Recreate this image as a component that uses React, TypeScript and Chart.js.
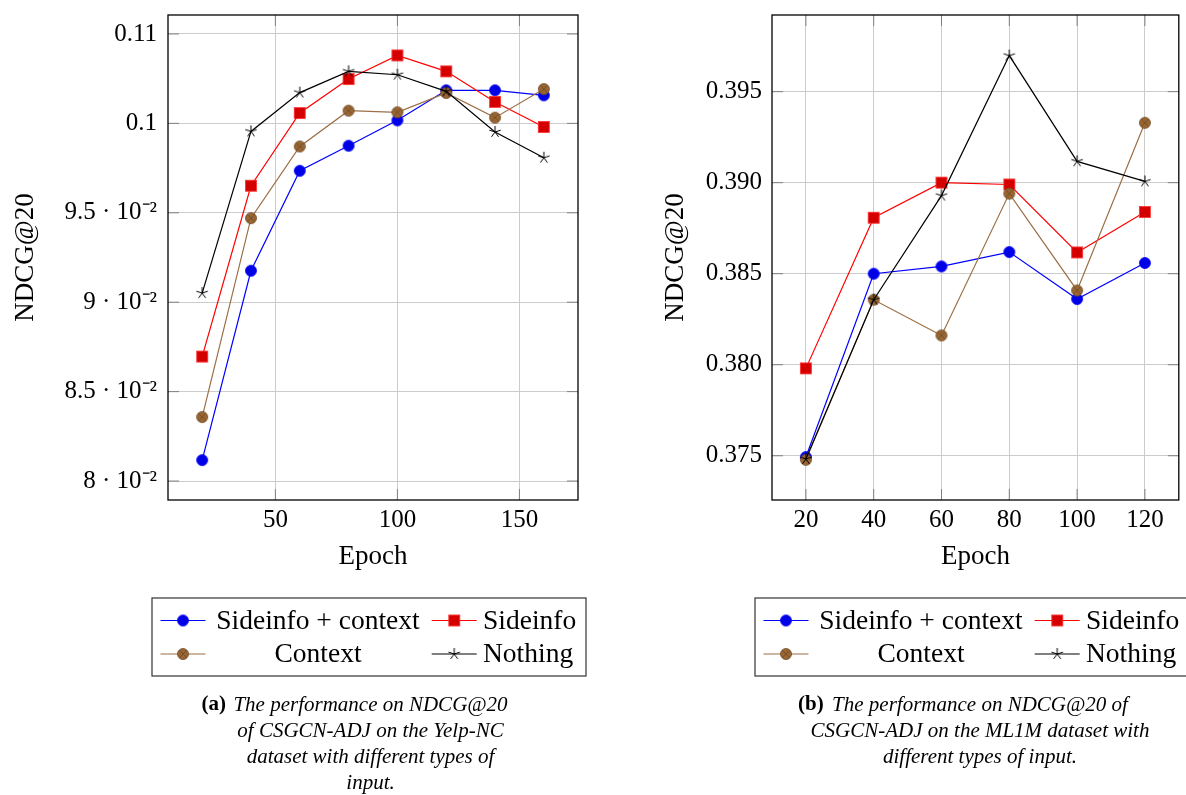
import React, { useEffect, useRef } from 'react';
import { Chart, registerables } from 'chart.js';

Chart.register(...registerables);

// ---------- data ----------
const seriesLabels = ['Sideinfo + context', 'Sideinfo', 'Context', 'Nothing'];

const epochsA = [20, 40, 60, 80, 100, 120, 140, 160];
const sideinfoContextA = [0.08117, 0.09176, 0.09735, 0.09875, 0.10017, 0.10185, 0.10185, 0.10157];
const sideinfoA = [0.08696, 0.09651, 0.10058, 0.10248, 0.1038, 0.10291, 0.1012, 0.0998];
const contextA = [0.08358, 0.0947, 0.09871, 0.10071, 0.10062, 0.1017, 0.10032, 0.10192];
const nothingA = [0.09051, 0.09955, 0.10172, 0.10291, 0.10272, 0.10179, 0.09952, 0.09808];
const yTicksA = [0.08, 0.085, 0.09, 0.095, 0.1, 0.105];
const yTickLabelsA = ['8 · 10⁻²', '8.5 · 10⁻²', '9 · 10⁻²', '9.5 · 10⁻²', '0.1', '0.11'];
const xTicksA = [50, 100, 150];
const captionLabelA = '(a)';
const captionA = [
  'The performance on NDCG@20',
  'of CSGCN-ADJ on the Yelp-NC',
  'dataset with different types of',
  'input.',
];

const epochsB = [20, 40, 60, 80, 100, 120];
const sideinfoContextB = [0.37493, 0.385, 0.3854, 0.38619, 0.38361, 0.38559];
const sideinfoB = [0.3798, 0.38807, 0.39, 0.3899, 0.38617, 0.38839];
const contextB = [0.37478, 0.38357, 0.38161, 0.3894, 0.38408, 0.39329];
const nothingB = [0.37482, 0.38357, 0.38929, 0.39698, 0.39117, 0.39007];
const yTicksB = [0.375, 0.38, 0.385, 0.39, 0.395];
const yTickLabelsB = ['0.375', '0.380', '0.385', '0.390', '0.395'];
const xTicksB = [20, 40, 60, 80, 100, 120];
const captionLabelB = '(b)';
const captionB = [
  'The performance on NDCG@20 of',
  'CSGCN-ADJ on the ML1M dataset with',
  'different types of input.',
];

const xTitle = 'Epoch';
const yTitle = 'NDCG@20';

// ---------- styles ----------
const FONT = '"Liberation Serif", "Times New Roman", serif';
const lineColors = ['#0000ff', '#ff0000', '#9c6f45', '#000000'];

function makeMarker(kind: string): HTMLCanvasElement {
  const c = document.createElement('canvas');
  c.width = 16;
  c.height = 16;
  const g = c.getContext('2d') as CanvasRenderingContext2D;
  const m = 8;
  if (kind === 'circle') {
    g.beginPath();
    g.arc(m, m, 5.5, 0, Math.PI * 2);
    g.fillStyle = '#0000e6';
    g.fill();
    g.strokeStyle = '#0000ff';
    g.lineWidth = 0.8;
    g.stroke();
  } else if (kind === 'square') {
    g.fillStyle = '#d40000';
    g.fillRect(m - 5.5, m - 5.5, 11, 11);
    g.strokeStyle = '#ff3030';
    g.lineWidth = 0.8;
    g.strokeRect(m - 5.5, m - 5.5, 11, 11);
  } else if (kind === 'otimes') {
    g.beginPath();
    g.arc(m, m, 5.5, 0, Math.PI * 2);
    g.fillStyle = '#996633';
    g.fill();
    g.strokeStyle = '#6e4a26';
    g.lineWidth = 0.8;
    g.stroke();
    const d = 5.5 * Math.SQRT1_2;
    g.beginPath();
    g.moveTo(m - d, m - d);
    g.lineTo(m + d, m + d);
    g.moveTo(m - d, m + d);
    g.lineTo(m + d, m - d);
    g.stroke();
  } else {
    g.strokeStyle = '#000000';
    g.lineWidth = 1;
    g.beginPath();
    for (let k = 0; k < 5; k++) {
      const ang = -Math.PI / 2 + (k * 2 * Math.PI) / 5;
      g.moveTo(m, m);
      g.lineTo(m + 6 * Math.cos(ang), m + 6 * Math.sin(ang));
    }
    g.stroke();
  }
  return c;
}

interface PanelCfg {
  xs: number[];
  series: number[][];
  xMin: number;
  xMax: number;
  yMin: number;
  yMax: number;
  yTicks: number[];
  yTickLabels: string[];
  xTicks: number[];
  padding: { left: number; top: number; right: number; bottom: number };
  yAxisWidth: number;
  yTickPad: number;
  yTitlePad: number;
  legendX: number;
  legendW: number;
  capLabel: string;
  capLabelX: number;
  capCenterX: number;
  caption: string[];
}

function buildChart(canvas: HTMLCanvasElement, p: PanelCfg): Chart {
  const markers = [makeMarker('circle'), makeMarker('square'), makeMarker('otimes'), makeMarker('star')];
  const orders = [3, 2, 1, 0];

  const datasets = p.series.map((vals, i) => ({
    label: seriesLabels[i],
    data: p.xs.map((x, j) => ({ x, y: vals[j] })),
    borderColor: lineColors[i],
    backgroundColor: lineColors[i],
    borderWidth: 1.2,
    pointStyle: markers[i],
    pointRadius: 6,
    pointHoverRadius: 6,
    tension: 0,
    order: orders[i],
  }));

  const framePlugin = {
    id: 'frame',
    beforeDatasetsDraw(chart: any) {
      const { ctx, chartArea: a, scales } = chart;
      ctx.save();
      ctx.strokeStyle = '#808080';
      ctx.lineWidth = 1;
      const seg = (x1: number, y1: number, x2: number, y2: number) => {
        ctx.beginPath();
        ctx.moveTo(x1, y1);
        ctx.lineTo(x2, y2);
        ctx.stroke();
      };
      scales.y.ticks.forEach((t: any) => {
        const py = scales.y.getPixelForValue(t.value);
        seg(a.left, py, a.left + 11, py);
        seg(a.right - 11, py, a.right, py);
      });
      scales.x.ticks.forEach((t: any) => {
        const px = scales.x.getPixelForValue(t.value);
        seg(px, a.bottom, px, a.bottom - 11);
        seg(px, a.top, px, a.top + 11);
      });
      ctx.strokeStyle = '#000000';
      ctx.lineWidth = 1.3;
      ctx.strokeRect(a.left, a.top, a.right - a.left, a.bottom - a.top);
      ctx.restore();
    },
  };

  const decorPlugin = {
    id: 'decor',
    afterDraw(chart: any) {
      const ctx = chart.ctx as CanvasRenderingContext2D;
      ctx.save();
      // legend box
      const bx = p.legendX;
      const by = 598;
      ctx.fillStyle = '#ffffff';
      ctx.fillRect(bx, by, p.legendW, 78);
      ctx.strokeStyle = '#333333';
      ctx.lineWidth = 1.2;
      ctx.strokeRect(bx, by, p.legendW, 78);
      const rows = [620.5, 654];
      const entries = [
        { i: 0, col: 0, row: 0 },
        { i: 1, col: 1, row: 0 },
        { i: 2, col: 0, row: 1 },
        { i: 3, col: 1, row: 1 },
      ];
      ctx.font = `27.5px ${FONT}`;
      ctx.textBaseline = 'middle';
      entries.forEach((e) => {
        const y = rows[e.row];
        const lx = e.col === 0 ? bx + 8.5 : bx + 279.7;
        ctx.strokeStyle = lineColors[e.i];
        ctx.lineWidth = 1.2;
        ctx.beginPath();
        ctx.moveTo(lx, y);
        ctx.lineTo(lx + 45, y);
        ctx.stroke();
        ctx.drawImage(markers[e.i], lx + 22.5 - 8, y - 8);
        ctx.fillStyle = '#000000';
        if (e.col === 0) {
          ctx.textAlign = 'center';
          ctx.fillText(seriesLabels[e.i], bx + 166, y + 1);
        } else {
          ctx.textAlign = 'left';
          ctx.fillText(seriesLabels[e.i], bx + 331, y + 1);
        }
      });
      // caption
      ctx.fillStyle = '#000000';
      ctx.textBaseline = 'middle';
      ctx.textAlign = 'left';
      ctx.font = `bold 21px ${FONT}`;
      ctx.fillText(p.capLabel, p.capLabelX, 705);
      ctx.font = `italic 21px ${FONT}`;
      ctx.textAlign = 'center';
      p.caption.forEach((line, k) => {
        ctx.fillText(line, p.capCenterX, 705 + 26 * k);
      });
      ctx.restore();
    },
  };

  return new Chart(canvas, {
    type: 'line',
    data: { datasets: datasets as any },
    options: {
      animation: false,
      responsive: false,
      events: [],
      layout: { padding: p.padding },
      plugins: { legend: { display: false }, tooltip: { enabled: false } },
      scales: {
        x: {
          type: 'linear',
          min: p.xMin,
          max: p.xMax,
          afterBuildTicks: (s: any) => {
            s.ticks = p.xTicks.map((v) => ({ value: v }));
          },
          afterFit: (s: any) => {
            s.height = 80;
            s.paddingLeft = 0;
            s.paddingRight = 0;
          },
          grid: { color: '#cccccc', lineWidth: 1, drawTicks: false },
          border: { display: false },
          ticks: {
            padding: 5,
            color: '#000000',
            font: { family: FONT, size: 25 },
            maxRotation: 0,
            autoSkip: false,
            callback: (v: any) => String(v),
          },
          title: {
            display: true,
            text: xTitle,
            color: '#000000',
            font: { family: FONT, size: 27 },
            padding: { top: 0, bottom: 7 },
          },
        },
        y: {
          type: 'linear',
          min: p.yMin,
          max: p.yMax,
          afterBuildTicks: (s: any) => {
            s.ticks = p.yTicks.map((v) => ({ value: v }));
          },
          afterFit: (s: any) => {
            s.width = p.yAxisWidth;
            s.paddingTop = 0;
            s.paddingBottom = 0;
          },
          grid: { color: '#cccccc', lineWidth: 1, drawTicks: false },
          border: { display: false },
          ticks: {
            padding: p.yTickPad,
            color: '#000000',
            font: { family: FONT, size: 25 },
            autoSkip: false,
            callback: (v: any) => {
              const idx = p.yTicks.findIndex((t) => Math.abs(t - v) < 1e-9);
              return idx >= 0 ? p.yTickLabels[idx] : '';
            },
          },
          title: {
            display: true,
            text: yTitle,
            color: '#000000',
            font: { family: FONT, size: 27 },
            padding: { top: p.yTitlePad, bottom: 0 },
          },
        },
      },
    },
    plugins: [framePlugin, decorPlugin],
  });
}

const panelA: PanelCfg = {
  xs: epochsA,
  series: [sideinfoContextA, sideinfoA, contextA, nothingA],
  xMin: 6,
  xMax: 174,
  yMin: 0.07894,
  yMax: 0.10606,
  yTicks: yTicksA,
  yTickLabels: yTickLabelsA,
  xTicks: xTicksA,
  padding: { left: 0, top: 15, right: 15, bottom: 215 },
  yAxisWidth: 168,
  yTickPad: 11,
  yTitlePad: 10,
  legendX: 152,
  legendW: 434,
  capLabel: captionLabelA,
  capLabelX: 201.5,
  capCenterX: 370.5,
  caption: captionA,
};

const panelB: PanelCfg = {
  xs: epochsB,
  series: [sideinfoContextB, sideinfoB, contextB, nothingB],
  xMin: 10,
  xMax: 130,
  yMin: 0.37257,
  yMax: 0.39921,
  yTicks: yTicksB,
  yTickLabels: yTickLabelsB,
  xTicks: xTicksB,
  padding: { left: 0, top: 15, right: 6, bottom: 215 },
  yAxisWidth: 179,
  yTickPad: 10,
  yTitlePad: 67,
  legendX: 162,
  legendW: 470,
  capLabel: captionLabelB,
  capLabelX: 205,
  capCenterX: 387,
  caption: captionB,
};

export default function App() {
  const refA = useRef<HTMLCanvasElement>(null);
  const refB = useRef<HTMLCanvasElement>(null);

  useEffect(() => {
    const a = buildChart(refA.current as HTMLCanvasElement, panelA);
    const b = buildChart(refB.current as HTMLCanvasElement, panelB);
    return () => {
      a.destroy();
      b.destroy();
    };
  }, []);

  return (
    <div
      style={{
        position: 'absolute',
        left: 0,
        top: 0,
        width: 1186,
        height: 795,
        overflow: 'hidden',
        background: '#ffffff',
      }}
    >
      <canvas ref={refA} width={593} height={795} style={{ position: 'absolute', left: 0, top: 0 }} />
      <canvas ref={refB} width={593} height={795} style={{ position: 'absolute', left: 593, top: 0 }} />
    </div>
  );
}
